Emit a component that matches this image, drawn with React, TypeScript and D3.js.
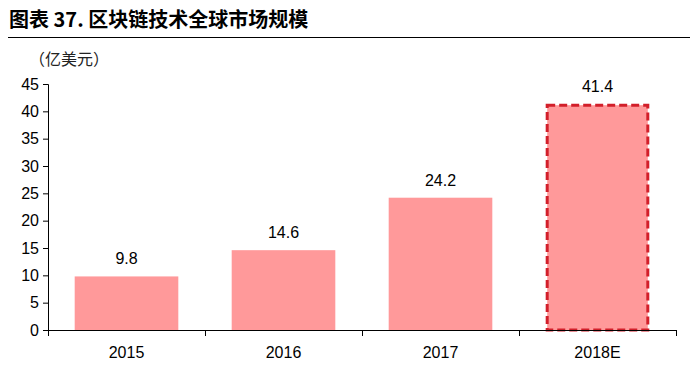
import { useEffect, useRef } from 'react';
import * as d3 from 'd3';

const categories = ['2015', '2016', '2017', '2018E'];
const values = [9.8, 14.6, 24.2, 41.4];
const yTicks = [0, 5, 10, 15, 20, 25, 30, 35, 40, 45];

export default function App() {
  const svgRef = useRef<SVGSVGElement>(null);

  useEffect(() => {
    if (!svgRef.current) return;
    const width = 698;
    const height = 366;
    const margin = { top: 84, right: 22, bottom: 36, left: 48 };

    const svg = d3.select(svgRef.current);
    svg.selectAll('*').remove();
    svg.attr('width', width).attr('height', height);

    // title + rule
    svg.append('text')
      .attr('x', 9)
      .attr('y', 27)
      .attr('font-family', '"Noto Sans CJK SC", sans-serif')
      .attr('font-weight', 'bold')
      .attr('font-size', '20px')
      .attr('fill', '#000')
      .text('图表 37. 区块链技术全球市场规模');

    svg.append('line')
      .attr('x1', 8).attr('x2', 693)
      .attr('y1', 37.5).attr('y2', 37.5)
      .attr('stroke', '#000').attr('stroke-width', 1.2);

    svg.append('text')
      .attr('x', 29)
      .attr('y', 65)
      .attr('font-family', '"Noto Sans CJK SC", sans-serif')
      .attr('font-size', '16px')
      .attr('fill', '#222')
      .text('（亿美元）');

    const x = d3.scaleBand()
      .domain(categories)
      .range([margin.left, width - margin.right])
      .paddingInner(0.34)
      .paddingOuter(0.17);

    const y = d3.scaleLinear()
      .domain([0, 45])
      .range([height - margin.bottom, margin.top]);

    const font = '"Liberation Sans", Arial, sans-serif';

    // y axis
    const yAxis = d3.axisLeft(y).tickValues(yTicks).tickSize(5).tickPadding(4);
    svg.append('g')
      .attr('transform', `translate(${margin.left},0)`)
      .call(yAxis)
      .call(g => g.selectAll('.domain').attr('stroke', '#000'))
      .call(g => g.selectAll('line').attr('stroke', '#000'))
      .call(g => g.selectAll('text').attr('fill', '#000').attr('font-size', '16px').attr('font-family', font));

    // bars
    categories.forEach((c, i) => {
      const bx = x(c)!;
      const by = y(values[i]);
      const bh = y(0) - by;
      const last = i === categories.length - 1;
      svg.append('rect')
        .attr('x', last ? bx + 1.5 : bx)
        .attr('y', last ? by + 1.5 : by)
        .attr('width', last ? x.bandwidth() - 3 : x.bandwidth())
        .attr('height', last ? bh - 1.5 : bh)
        .attr('fill', '#FF999A')
        .attr('stroke', last ? '#D21F2A' : 'none')
        .attr('stroke-width', last ? 3 : 0)
        .attr('stroke-dasharray', last ? '8,4' : null);

      svg.append('text')
        .attr('x', bx + x.bandwidth() / 2)
        .attr('y', by - 12)
        .attr('text-anchor', 'middle')
        .attr('font-size', '16px')
        .attr('font-family', font)
        .attr('fill', '#000')
        .text(values[i].toFixed(1));
    });

    // x axis with ticks at category boundaries
    const x0 = margin.left;
    const x1 = width - margin.right;
    const base = y(0);
    const gx = svg.append('g');
    gx.append('line')
      .attr('x1', x0).attr('x2', x1)
      .attr('y1', base + 0.5).attr('y2', base + 0.5)
      .attr('stroke', '#000');
    const bounds = categories.map((_, i) => x0 + i * ((x1 - x0) / categories.length)).concat([x1]);
    bounds.forEach(b => {
      gx.append('line')
        .attr('x1', b + 0.5).attr('x2', b + 0.5)
        .attr('y1', base).attr('y2', base + 6)
        .attr('stroke', '#000');
    });
    categories.forEach(c => {
      gx.append('text')
        .attr('x', x(c)! + x.bandwidth() / 2)
        .attr('y', base + 28)
        .attr('text-anchor', 'middle')
        .attr('font-size', '16px')
        .attr('font-family', font)
        .attr('fill', '#000')
        .text(c);
    });
  }, []);

  return (
    <div style={{ margin: -8 }}>
      <svg ref={svgRef} style={{ display: 'block', background: '#fff' }} />
    </div>
  );
}
